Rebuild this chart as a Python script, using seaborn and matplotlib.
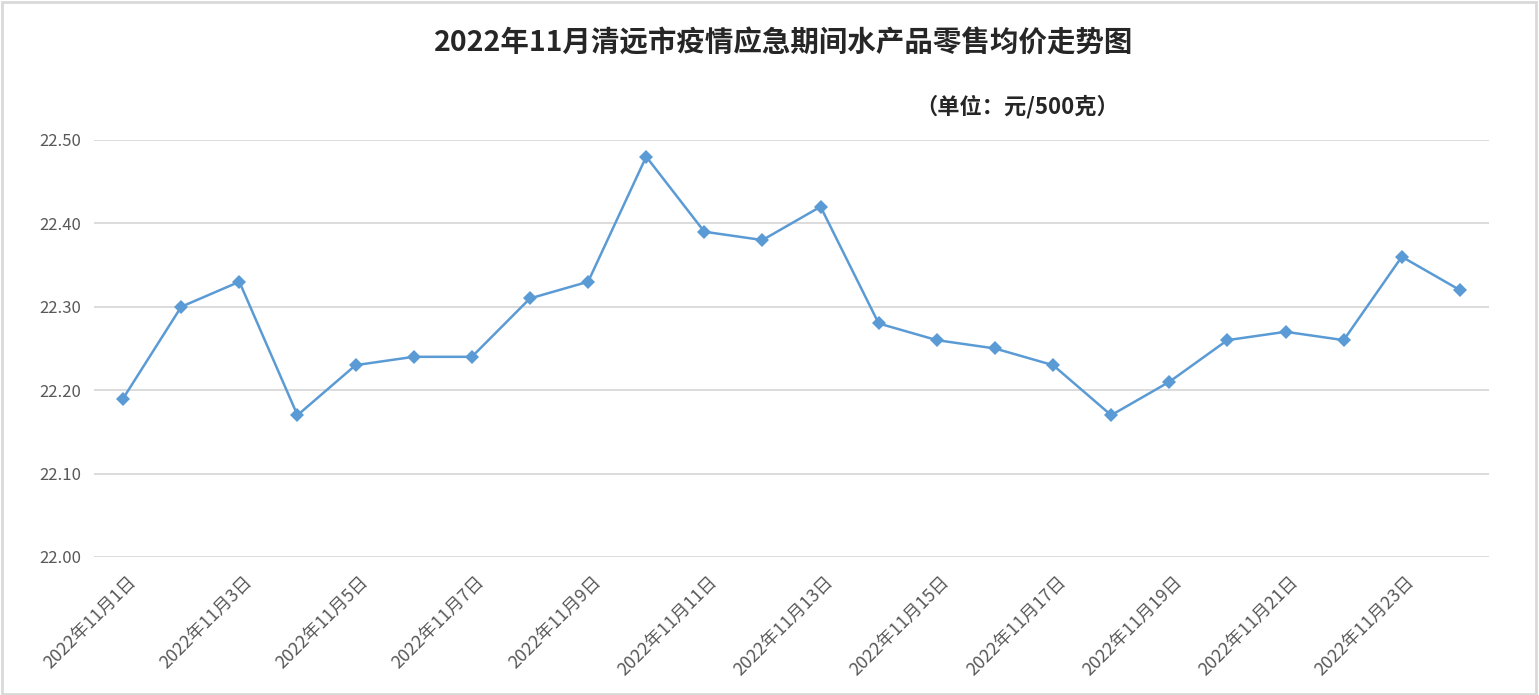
import matplotlib
matplotlib.use("Agg")
import matplotlib.pyplot as plt
import matplotlib.transforms as mtransforms
import seaborn as sns
import pandas as pd
from matplotlib.patches import Rectangle

days = list(range(1, 25))
dates = [f"2022年11月{d}日" for d in days]
prices = [22.19, 22.30, 22.33, 22.17, 22.23, 22.24, 22.24, 22.31, 22.33, 22.48,
          22.39, 22.38, 22.42, 22.28, 22.26, 22.25, 22.23, 22.17, 22.21, 22.26,
          22.27, 22.26, 22.36, 22.32]
yticks = [22.00, 22.10, 22.20, 22.30, 22.40, 22.50]
title = "2022年11月清远市疫情应急期间水产品零售均价走势图"
unit = "（单位：元/500克）"

sns.set_theme(style="white")
plt.rcParams['font.family'] = ['Noto Sans CJK SC', 'DejaVu Sans']

df = pd.DataFrame({"date": dates, "price": prices, "idx": range(len(dates))})

fig = plt.figure(figsize=(15.39, 6.95), dpi=100)
ax = fig.add_axes([0.0611, 0.1986, 0.9064, 0.6000])

sns.lineplot(data=df, x="idx", y="price", ax=ax, color="#5B9BD5", linewidth=1.8,
             marker="D", markersize=7, markeredgewidth=0, markerfacecolor="#5B9BD5")

ax.set_xlim(-0.5, len(dates) - 0.5)
ax.set_ylim(22.0, 22.5)
ax.set_yticks(yticks)
ax.set_yticklabels([f"{v:.2f}" for v in yticks], fontsize=12, color="#595959")
ax.yaxis.grid(True, color="#D9D9D9", linewidth=1.3)
ax.xaxis.grid(False)
ax.set_xticks(list(range(0, len(dates), 2)))
ax.set_xticklabels(dates[::2], rotation=45, ha="right", va="center",
                   rotation_mode="anchor", fontsize=12.8, color="#595959")
ax.tick_params(axis="x", length=0, pad=16)
ax.tick_params(axis="y", length=0, pad=9)
offset = mtransforms.ScaledTranslation(10 / 100, 0, fig.dpi_scale_trans)
for lbl in ax.get_xticklabels():
    lbl.set_transform(lbl.get_transform() + offset)
for s in ax.spines.values():
    s.set_visible(False)
ax.set_xlabel("")
ax.set_ylabel("")

fig.text(0.509, 0.937, title, ha="center", va="center", fontsize=20.5,
         fontweight="bold", color="#262626")
fig.text(0.661, 0.846, unit, ha="center", va="center", fontsize=16,
         fontweight="bold", color="#262626")

fig.patches.append(Rectangle((0.001, 0.002), 0.997, 0.995, transform=fig.transFigure,
                             fill=False, edgecolor="#D9D9D9", linewidth=2))

fig.savefig("out.png", dpi=100, facecolor="white")
